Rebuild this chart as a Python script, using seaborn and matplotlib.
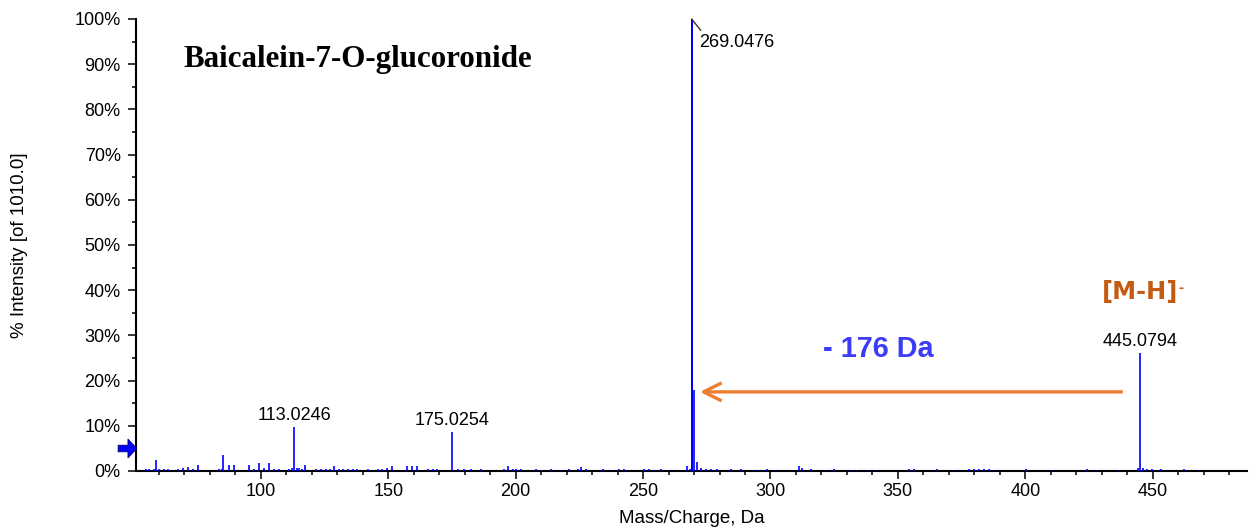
import numpy as np
import matplotlib
matplotlib.use("Agg")
import matplotlib.pyplot as plt
import seaborn as sns
from matplotlib.path import Path
from matplotlib.ticker import MultipleLocator, FuncFormatter

# ---------------- data ----------------
mz = [54.8, 56.1, 57.9, 58.9, 60.0, 61.8, 63.4, 67.5, 69.5, 71.4, 73.4, 75.5,
      83.6, 84.6, 85.3, 87.3, 89.3, 95.4, 97.4, 99.3, 101.3, 103.3, 105.0, 107.2,
      111.1, 112.2, 113.02, 114.0, 115.0, 116.3, 117.3, 121.6, 123.5, 125.5, 127.2,
      128.8, 130.7, 132.4, 134.0, 136.0, 137.9, 141.9, 145.8, 147.7, 149.6, 151.6,
      157.5, 159.4, 161.4, 165.4, 167.4, 169.3, 175.03, 177.2, 179.8, 182.4, 186.3,
      195.5, 196.8, 198.8, 200.1, 202.0, 207.9, 210.5, 213.8, 217.7, 221.0, 224.3,
      225.6, 227.5, 234.1, 237.3, 240.6, 242.6, 250.4, 252.4, 254.3, 257.0, 259.6,
      267.4, 268.3, 269.05, 270.05, 271.05, 272.6, 274.6, 276.6, 279.2, 284.4, 288.3,
      293.6, 295.5, 298.8, 301.4, 311.2, 312.5, 315.8, 321.7, 325.0, 331.5, 334.1,
      338.1, 342.0, 354.4, 356.3, 365.5, 372.0, 377.9, 379.9, 381.8, 383.8, 385.8,
      387.7, 400.2, 410.6, 424.4, 428.3, 436.8, 444.3, 445.08, 446.1, 447.9, 449.9,
      453.1, 462.3, 468.2]
intensity = [0.4, 0.4, 0.5, 2.4, 0.4, 0.4, 0.4, 0.4, 0.6, 0.9, 0.4, 1.3,
             0.4, 0.5, 3.5, 1.3, 1.3, 1.3, 0.4, 1.7, 0.6, 1.7, 0.5, 0.4,
             0.4, 0.6, 9.8, 0.7, 0.6, 0.5, 1.3, 0.4, 0.4, 0.4, 0.4,
             1.2, 0.5, 0.4, 0.4, 0.4, 0.4, 0.4, 0.4, 0.4, 0.7, 1.0,
             1.0, 1.0, 1.0, 0.4, 0.4, 0.4, 8.7, 0.5, 0.4, 0.4, 0.4,
             0.5, 1.0, 0.5, 0.5, 0.4, 0.4, 0.3, 0.4, 0.3, 0.5, 0.5,
             0.9, 0.5, 0.4, 0.3, 0.4, 0.4, 0.4, 0.4, 0.3, 0.4, 0.3,
             1.0, 0.5, 100.0, 18.0, 2.0, 0.6, 0.5, 0.4, 0.4, 0.4, 0.4,
             0.3, 0.3, 0.4, 0.3, 1.2, 0.6, 0.4, 0.3, 0.4, 0.3, 0.3,
             0.3, 0.3, 0.4, 0.4, 0.4, 0.3, 0.4, 0.4, 0.4, 0.4, 0.4,
             0.3, 0.4, 0.3, 0.4, 0.3, 0.3, 0.6, 26.2, 0.7, 0.5, 0.4,
             0.4, 0.4, 0.3]

labeled_mz = [113.02, 175.03, 445.08]
labeled_int = [9.8, 8.7, 26.2]
labeled_text = ["113.0246", "175.0254", "445.0794"]

base_peak_mz = 269.05
base_peak_text = "269.0476"

title_text = "Baicalein-7-O-glucoronide"
loss_text = "- 176 Da"
precursor_text = "[M-H]"
arrow_from = 438.3
arrow_to = 272.3
arrow_level = 17.5
threshold = 5.1

y_ticks = list(range(0, 101, 10))
x_ticks = [100, 150, 200, 250, 300, 350, 400, 450]

# ---------------- style ----------------
sns.set_theme(style="ticks")
plt.rcParams["font.family"] = ["Liberation Sans", "DejaVu Sans"]

fig = plt.figure(figsize=(12.56, 5.32), dpi=100)
ax = fig.add_axes([0.1083, 0.1147, 0.8845, 0.8496])

df_x = np.array(mz)
df_y = np.array(intensity)
ax.vlines(df_x, 0, df_y, colors="#0000FF", linewidth=1.2, zorder=3)
# slightly thicker base peak
sns.lineplot(x=[base_peak_mz, base_peak_mz], y=[0, 100], ax=ax, color="#0000FF",
             linewidth=1.4, estimator=None, sort=False, legend=False, zorder=3)

ax.set_xlim(51.0, 487.0)
ax.set_ylim(0, 100)
ax.set_xticks(x_ticks)
ax.set_yticks(y_ticks)
ax.xaxis.set_minor_locator(MultipleLocator(10))
ax.yaxis.set_minor_locator(MultipleLocator(5))
ax.yaxis.set_major_formatter(FuncFormatter(lambda v, p: f"{int(round(v))}%"))

sns.despine(ax=ax)
for s in ["left", "bottom"]:
    ax.spines[s].set_linewidth(1.5)
    ax.spines[s].set_color("black")
ax.tick_params(axis="both", which="major", length=5.5, width=1.1, color="black",
               labelsize=13, labelcolor="black")
ax.tick_params(axis="both", which="minor", length=3, width=1.1, color="black")
ax.tick_params(axis="y", which="major", pad=5.5)
ax.tick_params(axis="x", which="major", pad=3.5)

ax.set_xlabel("Mass/Charge, Da", fontsize=13.5, color="black")
ax.set_ylabel("% Intensity [of 1010.0]", fontsize=13.5, color="black")
ax.xaxis.set_label_coords(0.5, -0.086)
ax.yaxis.set_label_coords(-0.097, 0.5)

# peak labels
for x, y, t in zip(labeled_mz, labeled_int, labeled_text):
    ax.annotate(t, xy=(x, y), xytext=(0, 4.7), textcoords="offset points",
                ha="center", va="baseline", fontsize=13, color="black")

ax.annotate(base_peak_text, xy=(base_peak_mz, 100), xytext=(5.6, -19.9),
            textcoords="offset points", ha="left", va="baseline", fontsize=13,
            color="black", annotation_clip=False,
            arrowprops=dict(arrowstyle="-", color="#333333", lw=1.0,
                            shrinkA=0, shrinkB=0, relpos=(0.08, 0.85)))

# title
ax.text(0.0423, 0.894, title_text, transform=ax.transAxes, ha="left",
        va="baseline", fontsize=22.3, fontweight="bold",
        family=["Liberation Serif", "DejaVu Serif"], color="black")

# neutral loss arrow
ax.annotate("", xy=(arrow_to, arrow_level), xytext=(arrow_from, arrow_level),
            arrowprops=dict(arrowstyle="->,head_length=13,head_width=6.5",
                            mutation_scale=1, color="#ED7D31", lw=2.4,
                            shrinkA=0, shrinkB=0, capstyle="butt"))
ax.text(320.6, 25.3, loss_text, ha="left", va="baseline", fontsize=20.8,
        fontweight="bold", color="#3C3CF8")

prec = ax.text(430.1, 38.0, precursor_text, ha="left", va="baseline",
               fontsize=17.4, fontweight="bold", color="#C55A11",
               family=["DejaVu Sans"])
ax.annotate("-", xy=(1, 1), xycoords=prec, xytext=(0.3, -1.0),
            textcoords="offset points", ha="left", va="top", fontsize=9,
            fontweight="bold", color="#C55A11", family=["DejaVu Sans"])

# threshold marker on left axis
arrow_path = Path([(-1, -0.35), (0.05, -0.35), (0.05, -1), (1, 0), (0.05, 1),
                   (0.05, 0.35), (-1, 0.35), (-1, -0.35)],
                  [Path.MOVETO] + [Path.LINETO] * 6 + [Path.CLOSEPOLY])
ax.plot([-0.0081], [threshold], transform=ax.get_yaxis_transform(),
        marker=arrow_path, markersize=13.5, color="#0000FF",
        markeredgecolor="#00006A", markeredgewidth=0.6, clip_on=False,
        linestyle="none", zorder=5)

fig.savefig("out.png", dpi=100)
